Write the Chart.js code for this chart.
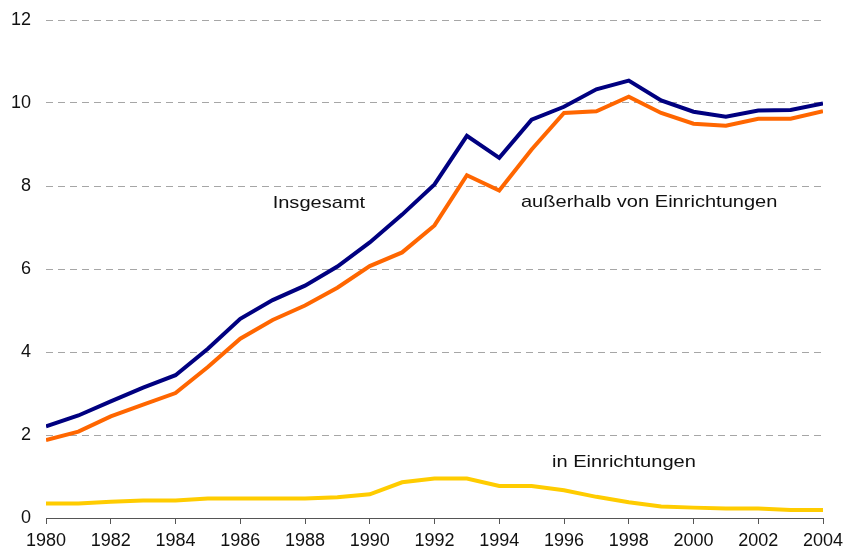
<!DOCTYPE html>
<html>
<head>
<meta charset="utf-8">
<script src="https://cdn.jsdelivr.net/npm/chart.js@4/dist/chart.umd.min.js"></script>
<style>
  html, body { margin: 0; padding: 0; background: #fff; }
  #wrap { width: 845px; height: 552px; }
</style>
</head>
<body>
<div id="wrap"><canvas id="chart" width="845" height="552"></canvas></div>
<script>
const jahre = [1980, 1981, 1982, 1983, 1984, 1985, 1986, 1987, 1988, 1989, 1990, 1991, 1992,
               1993, 1994, 1995, 1996, 1997, 1998, 1999, 2000, 2001, 2002, 2003, 2004];

const insgesamt = [2.21, 2.47, 2.81, 3.14, 3.44, 4.08, 4.80, 5.25, 5.60, 6.06, 6.64, 7.31, 8.04,
                   9.21, 8.68, 9.60, 9.91, 10.33, 10.54, 10.06, 9.79, 9.67, 9.82, 9.83, 9.99];

const ausserhalb = [1.88, 2.08, 2.45, 2.73, 3.01, 3.64, 4.32, 4.77, 5.12, 5.55, 6.07, 6.40, 7.05,
                    8.26, 7.89, 8.88, 9.76, 9.80, 10.15, 9.76, 9.50, 9.45, 9.62, 9.62, 9.80];

const inEinrichtungen = [0.35, 0.35, 0.39, 0.42, 0.42, 0.47, 0.47, 0.47, 0.47, 0.50, 0.57, 0.86, 0.95,
                         0.95, 0.77, 0.77, 0.67, 0.51, 0.38, 0.28, 0.25, 0.23, 0.23, 0.19, 0.19];

const reihenNamen = ['Insgesamt', 'außerhalb von Einrichtungen', 'in Einrichtungen'];

function punkte(werte) {
    return werte.map((v, i) => ({ x: jahre[i], y: v }));
}

// Beschriftungen direkt im Diagramm (statt Legende)
const beschriftung = {
    id: 'beschriftung',
    afterDatasetsDraw(chart) {
        const ctx = chart.ctx;
        const sx = chart.scales.x;
        const sy = chart.scales.y;
        const orte = [
            { text: reihenNamen[0], x: 1987.0, y: 7.47 },
            { text: reihenNamen[1], x: 1994.67, y: 7.5 },
            { text: reihenNamen[2], x: 1995.63, y: 1.23 }
        ];
        ctx.save();
        ctx.fillStyle = '#111';
        ctx.font = '17px "Liberation Sans", Arial, sans-serif';
        ctx.textBaseline = 'alphabetic';
        ctx.textAlign = 'left';
        orte.forEach(o => {
            ctx.save();
            ctx.translate(sx.getPixelForValue(o.x), sy.getPixelForValue(o.y));
            ctx.scale(1.18, 1);
            ctx.fillText(o.text, 0, 0);
            ctx.restore();
        });
        ctx.restore();
    }
};

const ctx = document.getElementById('chart').getContext('2d');
new Chart(ctx, {
    type: 'line',
    data: {
        datasets: [
            { label: reihenNamen[0], data: punkte(insgesamt), borderColor: '#000080' },
            { label: reihenNamen[1], data: punkte(ausserhalb), borderColor: '#ff6600' },
            { label: reihenNamen[2], data: punkte(inEinrichtungen), borderColor: '#ffcc00' }
        ]
    },
    options: {
        responsive: false,
        animation: false,
        layout: { padding: { left: 10, right: 22, top: 20, bottom: 0 } },
        elements: {
            line: { borderWidth: 4, tension: 0, fill: false },
            point: { radius: 0 }
        },
        plugins: {
            legend: { display: false },
            tooltip: { enabled: false }
        },
        scales: {
            x: {
                type: 'linear',
                min: 1980,
                max: 2004,
                grid: { drawOnChartArea: false, drawTicks: true, tickLength: 6, color: '#555' },
                border: { display: true, color: '#555', width: 1 },
                afterFit: s => { s.height = 34; s.paddingLeft = 0; s.paddingRight = 0; },
                ticks: {
                    stepSize: 2,
                    padding: 6,
                    color: '#111',
                    maxRotation: 0,
                    font: { family: '"Liberation Sans", Arial, sans-serif', size: 18 },
                    callback: v => String(v)
                }
            },
            y: {
                min: 0,
                max: 12,
                grid: { color: '#a6a6a6', drawTicks: false, lineWidth: 1 },
                border: { display: false, dash: [7, 5] },
                afterFit: s => { s.width = 36; s.paddingTop = 0; s.paddingBottom = 0; },
                ticks: {
                    stepSize: 2,
                    padding: 15,
                    color: '#111',
                    font: { family: '"Liberation Sans", Arial, sans-serif', size: 18 }
                }
            }
        }
    },
    plugins: [beschriftung]
});
</script>
</body>
</html>
